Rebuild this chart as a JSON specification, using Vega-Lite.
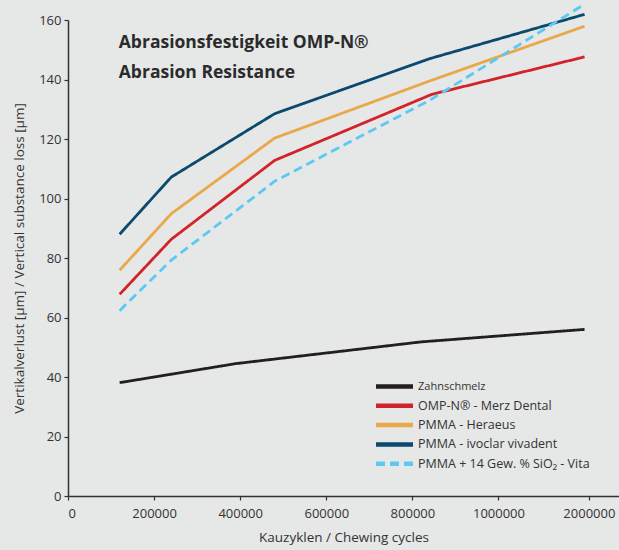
{
  "$schema": "https://vega.github.io/schema/vega-lite/v6.json",
  "width": 551,
  "height": 476,
  "autosize": {"type": "none"},
  "padding": {"left": 68, "top": 20, "right": 0, "bottom": 54},
  "background": "#e6e7e7",
  "config": {
    "view": {"stroke": null},
    "font": "Open Sans",
    "legend": {"padding": 0},
    "axis": {
      "domainColor": "#333333",
      "domainWidth": 1.5,
      "tickColor": "#333333",
      "tickWidth": 1.2,
      "tickSize": 4,
      "grid": false,
      "labelColor": "#333333",
      "labelFontSize": 13,
      "labelFont": "Open Sans",
      "titleColor": "#333333",
      "titleFont": "Open Sans",
      "titleFontWeight": "normal",
      "titleFontSize": 13.5
    }
  },
  "datasets": {
    "series": [
      {"series": "Zahnschmelz", "cycles": 120000, "loss": 38.1},
      {"series": "Zahnschmelz", "cycles": 390000, "loss": 44.5},
      {"series": "Zahnschmelz", "cycles": 820000, "loss": 51.8},
      {"series": "Zahnschmelz", "cycles": 1200000, "loss": 56.0},
      {"series": "OMP-N® - Merz Dental", "cycles": 120000, "loss": 67.8},
      {"series": "OMP-N® - Merz Dental", "cycles": 240000, "loss": 86.3},
      {"series": "OMP-N® - Merz Dental", "cycles": 480000, "loss": 112.8},
      {"series": "OMP-N® - Merz Dental", "cycles": 845000, "loss": 135.0},
      {"series": "OMP-N® - Merz Dental", "cycles": 1200000, "loss": 147.6},
      {"series": "PMMA - Heraeus", "cycles": 120000, "loss": 75.9},
      {"series": "PMMA - Heraeus", "cycles": 240000, "loss": 94.9},
      {"series": "PMMA - Heraeus", "cycles": 480000, "loss": 120.3},
      {"series": "PMMA - Heraeus", "cycles": 840000, "loss": 139.5},
      {"series": "PMMA - Heraeus", "cycles": 1200000, "loss": 157.9},
      {"series": "PMMA - ivoclar vivadent", "cycles": 120000, "loss": 88.0},
      {"series": "PMMA - ivoclar vivadent", "cycles": 240000, "loss": 107.2},
      {"series": "PMMA - ivoclar vivadent", "cycles": 480000, "loss": 128.5},
      {"series": "PMMA - ivoclar vivadent", "cycles": 840000, "loss": 147.0},
      {"series": "PMMA - ivoclar vivadent", "cycles": 1200000, "loss": 161.9},
      {"series": "PMMA + 14 Gew. % SiO₂ - Vita", "cycles": 120000, "loss": 62.3},
      {"series": "PMMA + 14 Gew. % SiO₂ - Vita", "cycles": 240000, "loss": 79.3},
      {"series": "PMMA + 14 Gew. % SiO₂ - Vita", "cycles": 480000, "loss": 105.8},
      {"series": "PMMA + 14 Gew. % SiO₂ - Vita", "cycles": 840000, "loss": 133.0},
      {"series": "PMMA + 14 Gew. % SiO₂ - Vita", "cycles": 1200000, "loss": 165.3}
    ],
    "titles": [
      {"cycles": 118000, "loss": 152.3, "text": "Abrasionsfestigkeit OMP-N®"},
      {"cycles": 118000, "loss": 142.2, "text": "Abrasion Resistance"}
    ]
  },
  "layer": [
    {
      "data": {"name": "series"},
      "mark": {"type": "line", "strokeWidth": 2.8, "clip": false},
      "encoding": {
        "x": {
          "field": "cycles",
          "type": "quantitative",
          "scale": {"domain": [0, 1280000], "nice": false, "zero": true},
          "axis": {
            "title": "Kauzyklen / Chewing cycles",
            "values": [0, 200000, 400000, 600000, 800000, 1000000, 1210000],
            "format": "d",
            "labelExpr": "datum.value > 1100000 ? '2000000' : datum.label",
            "labelPadding": 7,
            "titlePadding": 10
          }
        },
        "y": {
          "field": "loss",
          "type": "quantitative",
          "scale": {"domain": [0, 160], "nice": false},
          "axis": {
            "title": "Vertikalverlust [µm] / Vertical substance loss [µm]",
            "values": [0, 20, 40, 60, 80, 100, 120, 140, 160],
            "labelPadding": 3,
            "titlePadding": 12
          }
        },
        "color": {
          "field": "series",
          "type": "nominal",
          "scale": {
            "domain": ["Zahnschmelz", "OMP-N® - Merz Dental", "PMMA - Heraeus", "PMMA - ivoclar vivadent", "PMMA + 14 Gew. % SiO₂ - Vita"],
            "range": ["#231f20", "#d2232a", "#e9a84a", "#0b4a6e", "#5cc9f2"]
          },
          "legend": {
            "title": null,
            "orient": "none",
            "legendX": 319,
            "legendY": 359,
            "symbolType": "M-3.7,0H3.7",
            "symbolSize": 100,
            "symbolStrokeWidth": 4.5,
            "rowPadding": 0.3,
            "labelOffset": 16,
            "labelFontSize": 12.5,
            "labelColor": "#333333",
            "labelFont": "Open Sans",
            "labelLimit": 300,
            "encode": {
              "labels": {
                "update": {
                  "fontSize": {"signal": "datum.value == 'Zahnschmelz' ? 11 : 12.5"}
                }
              },
              "symbols": {
                "update": {
                  "strokeDash": {"signal": "datum.value == 'PMMA + 14 Gew. % SiO₂ - Vita' ? [15, 7] : [1, 0]"}
                }
              }
            }
          }
        },
        "strokeDash": {
          "field": "series",
          "type": "nominal",
          "scale": {
            "domain": ["Zahnschmelz", "OMP-N® - Merz Dental", "PMMA - Heraeus", "PMMA - ivoclar vivadent", "PMMA + 14 Gew. % SiO₂ - Vita"],
            "range": [[1, 0], [1, 0], [1, 0], [1, 0], [9, 5]]
          },
          "legend": null
        }
      }
    },
    {
      "data": {"name": "titles"},
      "mark": {"type": "text", "align": "left", "baseline": "middle", "fontSize": 17.5, "fontWeight": "bold", "font": "Open Sans", "color": "#2b2b2b"},
      "encoding": {
        "x": {"field": "cycles", "type": "quantitative"},
        "y": {"field": "loss", "type": "quantitative"},
        "text": {"field": "text"}
      }
    }
  ]
}
